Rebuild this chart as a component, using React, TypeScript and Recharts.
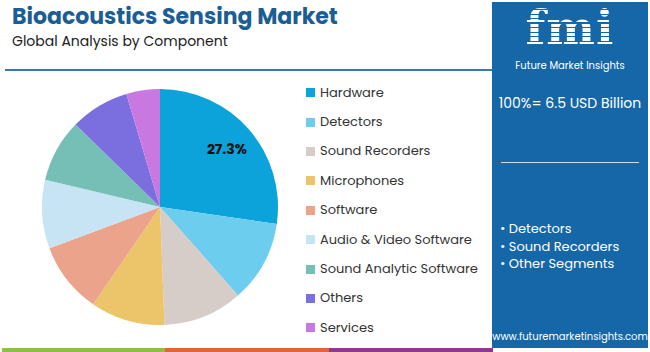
import React from 'react';
import { PieChart, Pie, Cell, Legend } from 'recharts';

const categories = [
  'Hardware',
  'Detectors',
  'Sound Recorders',
  'Microphones',
  'Software',
  'Audio & Video Software',
  'Sound Analytic Software',
  'Others',
  'Services',
];
const shares = [27.3, 11.2, 10.9, 10.2, 9.7, 9.4, 8.6, 8.1, 4.6];
const colors = ['#0ca3da', '#6ccdef', '#d6ccc8', '#ecc46a', '#eba38b', '#c6e4f4', '#76bfb7', '#7b6fe0', '#c978e2'];
const labelled = ['Hardware'];
const keySegments = ['Detectors', 'Sound Recorders', 'Other Segments'];

const data = categories.map((name, i) => ({ name, value: shares[i] }));

const FONT = "Poppins, 'Open Sans', 'Noto Sans', sans-serif";
const RAD = Math.PI / 180;

const renderLabel = (props: any) => {
  const { cx, cy, midAngle, outerRadius, name, value } = props;
  if (!labelled.includes(name)) return null;
  const r = outerRadius * 0.75;
  const x = cx + r * Math.cos(-midAngle * RAD);
  const y = cy + r * Math.sin(-midAngle * RAD);
  return (
    <text x={x} y={y} textAnchor="middle" dominantBaseline="central" fill="#111" fontSize={14} fontWeight={700} fontFamily={FONT}>
      {value}%
    </text>
  );
};

const LegendList = () => (
  <div style={{ fontFamily: FONT }}>
    {categories.map((c, i) => (
      <div key={c} style={{ display: 'flex', alignItems: 'center', height: 29.4, fontSize: 13, color: '#333' }}>
        <span style={{ width: 9, height: 9, background: colors[i], marginRight: 5, display: 'inline-block' }} />
        {c}
      </div>
    ))}
  </div>
);

const App = () => {
  return (
    <div style={{ position: 'absolute', left: 0, top: 0, width: 650, height: 352, background: '#fff', fontFamily: FONT, overflow: 'hidden' }}>
      <div style={{ position: 'absolute', left: 12, top: 4, fontSize: 22, lineHeight: '26px', fontWeight: 700, color: '#1b5d95', whiteSpace: 'nowrap' }}>
        Bioacoustics Sensing Market
      </div>
      <div style={{ position: 'absolute', left: 12, top: 32, fontSize: 14, lineHeight: '18px', color: '#222', whiteSpace: 'nowrap' }}>
        Global Analysis by Component
      </div>
      <div style={{ position: 'absolute', left: 5, top: 69, width: 488, height: 2, background: '#3a78b0' }} />

      <div style={{ position: 'absolute', left: 0, top: 0 }}>
        <PieChart width={490} height={345} margin={{ top: 0, right: 0, bottom: 0, left: 0 }}>
          <Pie
            data={data}
            dataKey="value"
            nameKey="name"
            cx={160}
            cy={207}
            outerRadius={118}
            startAngle={90}
            endAngle={-270}
            stroke="none"
            label={renderLabel}
            labelLine={false}
            isAnimationActive={false}
          >
            {data.map((d, i) => (
              <Cell key={d.name} fill={colors[i]} />
            ))}
          </Pie>
          <Legend
            layout="vertical"
            content={<LegendList />}
            wrapperStyle={{ position: 'absolute', left: 306, top: 78, width: 180 }}
          />
        </PieChart>
      </div>

      {/* side panel */}
      <div style={{ position: 'absolute', left: 492, top: 2, width: 156, height: 346, background: '#1667a7', color: '#fff' }}>
        <div
          style={{
            position: 'absolute', left: 0, top: 4, width: 156, height: 44, textAlign: 'center',
            fontFamily: "'DejaVu Serif', serif", fontWeight: 700, fontSize: 46, lineHeight: '44px', letterSpacing: 1,
            backgroundImage: 'repeating-linear-gradient(180deg, #fff 0px, #fff 3px, #1667a7 3px, #1667a7 4.5px)',
            WebkitBackgroundClip: 'text', backgroundClip: 'text', color: 'transparent',
          }}
        >
          fmi
        </div>
        <div style={{ position: 'absolute', left: 0, top: 57, width: 156, textAlign: 'center', fontSize: 10, lineHeight: '13px' }}>Future Market Insights</div>
        <div style={{ position: 'absolute', left: 0, top: 92, width: 156, textAlign: 'center', fontSize: 14, lineHeight: '18px' }}>100%= 6.5 USD Billion</div>
        <div style={{ position: 'absolute', left: 9, top: 160, width: 138, height: 1, background: '#c9dced' }} />
        <div style={{ position: 'absolute', left: 8, top: 218, fontSize: 13, lineHeight: '17.5px' }}>
          {keySegments.map((s) => (
            <div key={s}>• {s}</div>
          ))}
        </div>
        <div style={{ position: 'absolute', left: 0, top: 328, width: 156, textAlign: 'center', fontSize: 10, lineHeight: '13px' }}>www.futuremarketinsights.com</div>
      </div>

      {/* bottom stripes */}
      <div style={{ position: 'absolute', left: 2, top: 348, width: 163, height: 4, background: '#8dc04b' }} />
      <div style={{ position: 'absolute', left: 165, top: 348, width: 164, height: 4, background: '#e0643a' }} />
      <div style={{ position: 'absolute', left: 329, top: 348, width: 164, height: 4, background: '#8b3a8f' }} />
    </div>
  );
};

export default App;
